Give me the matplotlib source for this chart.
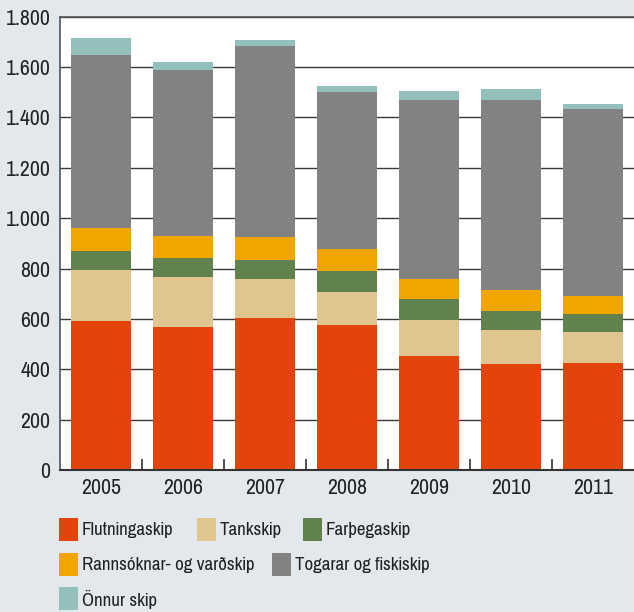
import matplotlib
matplotlib.use("Agg")
import matplotlib.pyplot as plt
from matplotlib.patches import Rectangle
import numpy as np

years = ["2005", "2006", "2007", "2008", "2009", "2010", "2011"]
flutningaskip = [592, 568, 604, 576, 453, 421, 425]
tankskip = [203, 199, 155, 131, 143, 135, 123]
farthegaskip = [75, 75, 75, 83, 83, 76, 72]
rannsoknar = [91, 88, 91, 88, 80, 83, 71]
togarar = [688, 659, 759, 623, 710, 754, 743]
onnur = [67, 32, 24, 24, 36, 44, 20]

series_names = ["Flutningaskip", "Tankskip", "Farþegaskip",
                "Rannsóknar- og varðskip", "Togarar og fiskiskip", "Önnur skip"]
series_values = [flutningaskip, tankskip, farthegaskip, rannsoknar, togarar, onnur]
colors = ["#E2440C", "#E1C58E", "#61824D", "#F0A500", "#828282", "#93C0BC"]
yticks = [0, 200, 400, 600, 800, 1000, 1200, 1400, 1600, 1800]
ytick_labels = ["0", "200", "400", "600", "800", "1.000", "1.200", "1.400", "1.600", "1.800"]

plt.rcParams["font.family"] = ["Pragati Narrow", "Archivo Narrow", "DejaVu Sans"]
FS_TICK = 17
FS_LEG = 14.8

W, H = 634, 612
bg = "#E3E8EC"
fig = plt.figure(figsize=(W / 100, H / 100), dpi=100, facecolor=bg)
ax = fig.add_axes([60 / W, (H - 470) / H, (634 - 60) / W, (470 - 16.7) / H])
ax.set_facecolor("white")

x = np.arange(len(years))
bottom = np.zeros(len(years))
for vals, c in zip(series_values, colors):
    ax.bar(x, vals, width=0.73, bottom=bottom, color=c, zorder=2, linewidth=0)
    bottom += np.array(vals)

ax.set_xlim(-0.5, len(years) - 0.5)
ax.set_ylim(0, 1800)
ax.set_yticks(yticks)
ax.set_yticklabels(ytick_labels)
ax.set_xticks(x)
ax.set_xticklabels(years)
ax.set_xticks(np.arange(0.5, len(years) - 1, 1.0), minor=True)
ax.tick_params(axis="y", length=0, pad=7, labelsize=FS_TICK, labelcolor="#222222")
ax.tick_params(axis="x", which="major", length=0, pad=6, labelsize=FS_TICK, labelcolor="#222222")
ax.tick_params(axis="x", which="minor", direction="in", length=8, width=1.2, color="#333333")
ax.set_axisbelow(True)
ax.yaxis.grid(True, color="#3a3a3a", linewidth=1.0, zorder=0)
ax.spines["right"].set_visible(False)
ax.spines["top"].set_color("#555555")
ax.spines["top"].set_linewidth(1.2)
ax.spines["left"].set_color("#555555")
ax.spines["left"].set_linewidth(1.2)
ax.spines["bottom"].set_color("#333333")
ax.spines["bottom"].set_linewidth(1.5)

# legend (flow layout, in pixel coordinates)
layout = [(59, 529), (197, 529), (303, 529),
          (59, 564), (272, 564),
          (59, 598)]
for (px, py), name, c in zip(layout, series_names, colors):
    fig.add_artist(Rectangle((px / W, 1 - (py + 11.5) / H), 18.5 / W, 23 / H,
                             transform=fig.transFigure, facecolor=c, edgecolor="none"))
    fig.text((px + 23) / W, 1 - (py + 1) / H, name, fontsize=FS_LEG, color="#222222",
             va="center", ha="left")

fig.savefig("out.png", dpi=100, facecolor=bg)
